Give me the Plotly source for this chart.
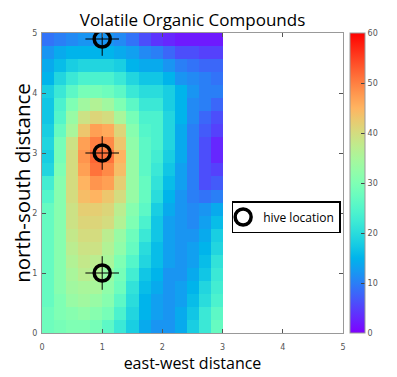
import numpy as np
import plotly.graph_objects as go

# Grid: 15 columns (x 0..3, width 0.2), 23 rows (y 0..5), rows listed top -> bottom
x_centers = [0.1, 0.3, 0.5, 0.7, 0.9, 1.1, 1.3, 1.5, 1.7, 1.9, 2.1, 2.3, 2.5, 2.7, 2.9]
n_rows = 23
voc_top_to_bottom = [
    [9, 10, 11, 12, 12, 12, 11, 9, 6, 4, 3, 2, 2, 2, 2],
    [12, 14, 15, 15, 15, 15, 14, 13, 11, 10, 8, 6, 6, 5, 5],
    [14, 16, 18, 19, 19, 19, 18, 15, 14, 14, 12, 10, 9, 8, 8],
    [15, 19, 22, 24, 24, 24, 22, 19, 17, 17, 15, 12, 11, 10, 9],
    [18, 22, 26, 29, 29, 28, 26, 22, 20, 20, 18, 15, 12, 10, 10],
    [17, 24, 30, 34, 36, 34, 30, 26, 22, 22, 18, 15, 11, 10, 8],
    [17, 25, 33, 39, 41, 40, 35, 29, 24, 24, 19, 15, 11, 8, 6],
    [18, 27, 35, 43, 47, 46, 41, 31, 25, 24, 19, 14, 10, 7, 5],
    [19, 29, 39, 47, 50, 49, 43, 32, 26, 24, 19, 14, 10, 6, 3],
    [18, 29, 40, 48, 52, 51, 45, 33, 26, 23, 18, 14, 10, 6, 3],
    [19, 30, 40, 47, 51, 49, 44, 33, 26, 22, 17, 13, 10, 6, 5],
    [23, 31, 40, 45, 48, 47, 42, 33, 27, 21, 16, 13, 10, 6, 7],
    [25, 31, 40, 44, 45, 43, 40, 33, 27, 20, 15, 12, 10, 9, 10],
    [27, 31, 39, 42, 42, 41, 37, 31, 26, 18, 14, 12, 11, 12, 14],
    [27, 31, 39, 41, 41, 40, 36, 30, 24, 17, 13, 12, 11, 13, 16],
    [27, 31, 38, 40, 40, 37, 33, 28, 22, 17, 13, 12, 12, 14, 18],
    [27, 31, 37, 39, 39, 36, 32, 27, 20, 16, 13, 12, 13, 15, 19],
    [27, 31, 36, 38, 37, 35, 30, 25, 19, 16, 13, 12, 13, 16, 21],
    [27, 31, 35, 37, 36, 33, 29, 23, 17, 15, 12, 12, 14, 17, 22],
    [27, 31, 34, 35, 35, 32, 28, 21, 16, 14, 12, 13, 15, 19, 23],
    [27, 30, 33, 34, 33, 31, 26, 20, 15, 13, 12, 13, 16, 20, 24],
    [28, 30, 31, 32, 31, 29, 24, 19, 15, 13, 12, 14, 17, 22, 26],
    [28, 29, 30, 30, 29, 26, 22, 18, 14, 12, 12, 14, 18, 22, 27],
]
hive_x = [1, 1, 1]
hive_y = [4.9, 3, 1]
axis_ticks = [0, 1, 2, 3, 4, 5]
cbar_ticks = [0, 10, 20, 30, 40, 50, 60]

z = voc_top_to_bottom[::-1]
y_centers = [(k + 0.5) * 5 / n_rows for k in range(n_rows)]

# gnuplot-style rainbow (rgbformulae 33,13,10)
cs = []
for t in np.linspace(0, 1, 25):
    r = min(1, abs(2 * t - 0.5))
    g = max(0, np.sin(np.pi * t))
    b = max(0, np.cos(np.pi * t / 2))
    cs.append([float(t), f"rgb({int(r*255)},{int(g*255)},{int(b*255)})"])

fig = go.Figure()
fig.add_trace(go.Heatmap(
    x=x_centers, y=y_centers, z=z, zmin=0, zmax=60, colorscale=cs,
    showlegend=False, hoverinfo="skip",
    colorbar=dict(
        x=1.023, xanchor="left", y=0.5, yanchor="middle", len=1.0, lenmode="fraction",
        xpad=0, ypad=0,
        thickness=15, outlinewidth=1, outlinecolor="#999",
        tickvals=cbar_ticks, ticks="inside", ticklen=4, tickcolor="#444",
        tickfont=dict(family="DejaVu Sans", size=8, color="#555"),
    ),
))
fig.add_trace(go.Scatter(
    x=hive_x, y=hive_y, mode="markers", showlegend=False, hoverinfo="skip",
    marker=dict(symbol="cross-thin-open", size=24, color="black",
                line=dict(color="black", width=1)),
))
fig.add_trace(go.Scatter(
    x=hive_x, y=hive_y, mode="markers", name="hive location",
    marker=dict(symbol="circle-open", size=16, color="black",
                line=dict(color="black", width=3.5)),
))

axis_common = dict(
    range=[0, 5], tickvals=axis_ticks, showgrid=False, zeroline=False,
    showline=True, linecolor="#999", linewidth=1, mirror="ticks",
    ticks="inside", ticklen=4, tickcolor="#555", automargin=False,
    tickfont=dict(family="DejaVu Sans", size=8, color="#555"),
)
# page body adds an 8px offset, so the figure is sized/margined to compensate
fig.update_layout(
    width=389, height=369,
    margin=dict(l=34, r=54, t=25, b=44, autoexpand=False),
    paper_bgcolor="white", plot_bgcolor="white",
    title=dict(text="Volatile Organic Compounds", x=0.5, xref="paper",
               y=1 - 12 / 369, yref="container", yanchor="middle",
               font=dict(family="Open Sans", size=17, color="black")),
    xaxis=dict(**axis_common, title=dict(text="east-west distance", standoff=1,
               font=dict(family="Open Sans", size=16, color="black")),
               ticklabelstandoff=6),
    yaxis=dict(**axis_common, title=dict(text="north-south distance", standoff=9,
               font=dict(family="Open Sans", size=20.5, color="black")),
               ticklabelstandoff=2),
    legend=dict(x=0.63, y=0.44, xanchor="left", yanchor="top", itemwidth=30,
                indentation=-10,
                bordercolor="black", borderwidth=1.5, bgcolor="white",
                font=dict(family="Open Sans", size=12, color="black")),
)
fig.write_html("out.html")
